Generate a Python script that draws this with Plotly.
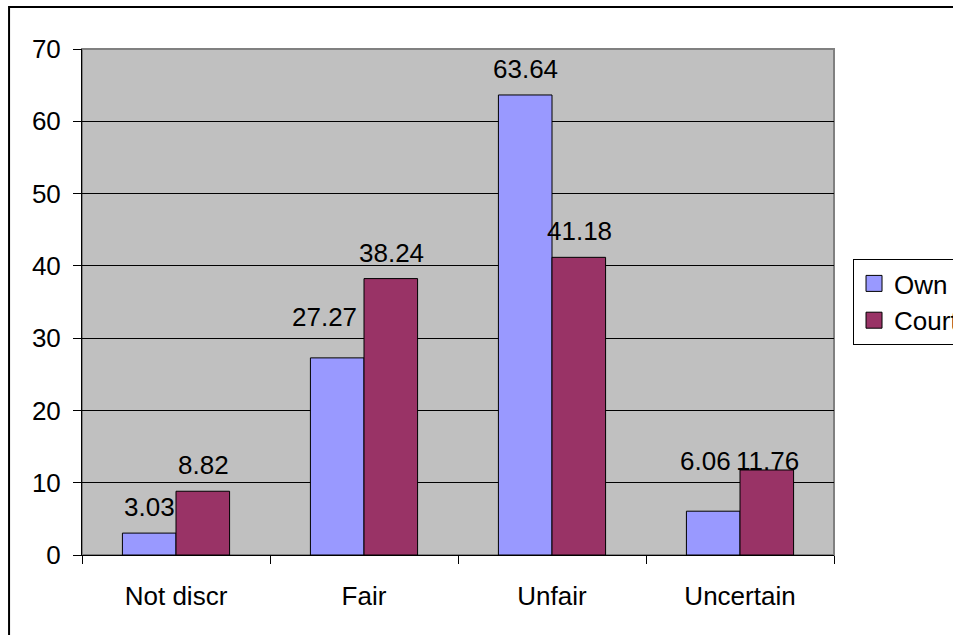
import plotly.graph_objects as go

categories = ["Not discr", "Fair", "Unfair", "Uncertain"]
own = [3.03, 27.27, 63.64, 6.06]
court = [8.82, 38.24, 41.18, 11.76]
series_names = ["Own", "Court"]
colors = ["#9999FF", "#993366"]

FONT = "Liberation Sans, Arial, sans-serif"
FS = 26
BAR_HALF = 27          # pixel offset of each bar centre from the category centre
LABEL_LIFT = 26        # default label centre above bar top (px)
# manual label nudges (series index, category index) -> (dx, extra dy) in px
nudges = {(0, 1): (-13, 15), (0, 3): (-8, 24), (1, 3): (0, -17)}

fig = go.Figure()
annotations = []
for si, (name, vals, col) in enumerate(zip(series_names, [own, court], colors)):
    fig.add_trace(go.Bar(
        x=categories, y=vals, name=name,
        marker=dict(color=col, line=dict(color="black", width=1)),
        showlegend=False,
    ))
    fig.add_trace(go.Scatter(
        x=[None], y=[None], mode="markers", name=name,
        marker=dict(symbol="square", size=17, color=col, line=dict(color="black", width=1)),
        showlegend=True,
    ))
    sign = -1 if si == 0 else 1
    for ci, (cat, v) in enumerate(zip(categories, vals)):
        dx, dy = nudges.get((si, ci), (0, 0))
        annotations.append(dict(
            x=cat, y=v, xref="x", yref="y", text=f"{v:.2f}", showarrow=False,
            xshift=sign * BAR_HALF + dx, yshift=LABEL_LIFT + dy,
            xanchor="center", yanchor="middle",
            font=dict(size=FS, color="black", family=FONT),
        ))

fig.update_layout(
    width=953, height=635,
    margin=dict(l=82, r=119, t=49, b=80, autoexpand=False),
    paper_bgcolor="white", plot_bgcolor="#C0C0C0",
    barmode="group", bargap=0.43, bargroupgap=0,
    font=dict(family=FONT, size=FS, color="black"),
    legend=dict(x=1.0253, y=0.5, xanchor="left", yanchor="middle",
                bordercolor="black", borderwidth=1, bgcolor="white",
                font=dict(size=FS, family=FONT), itemwidth=30,
                tracegroupgap=0),
    xaxis=dict(showline=True, linecolor="black", linewidth=1,
               ticks="outside", tickson="boundaries", ticklen=8, tickcolor="black",
               tickfont=dict(size=FS), showgrid=False, ticklabelstandoff=18),
    yaxis=dict(range=[0, 70], dtick=10, showline=True, linecolor="black", linewidth=1,
               ticks="outside", ticklen=8, tickcolor="black",
               gridcolor="black", gridwidth=1, tickfont=dict(size=FS),
               zeroline=False, ticklabelstandoff=7),
    annotations=annotations,
    shapes=[
        dict(type="rect", xref="paper", yref="paper", x0=0, x1=1, y0=0, y1=1,
             line=dict(color="#808080", width=2), layer="below"),
        dict(type="rect", xref="paper", yref="paper", x0=-0.097, x1=1.3, y0=-0.3, y1=1.083,
             line=dict(color="black", width=2)),
    ],
)

fig.write_html("out.html")
